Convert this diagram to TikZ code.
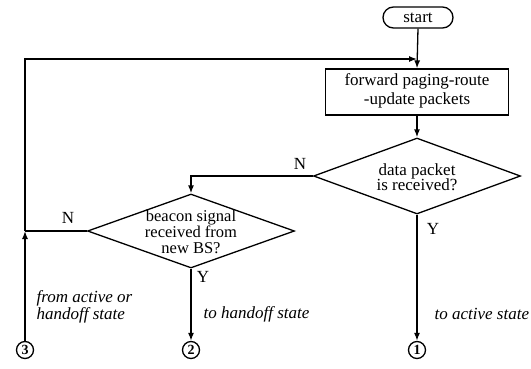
\documentclass[tikz,border=0pt]{standalone}
\usepackage{fontspec}
\setmainfont{Liberation Serif}
\usetikzlibrary{shapes.geometric,arrows.meta}
\begin{document}
\begin{tikzpicture}[x=1pt,y=-1pt,
  line width=1.3pt,
  txt/.style={font=\fontsize{17}{15.5}\selectfont, inner sep=0pt, align=center},
  itl/.style={font=\fontsize{17}{15}\selectfont\itshape, inner sep=0pt, align=left, anchor=west},
  dec/.style={draw, diamond, inner sep=0pt},
  conn/.style={draw, circle, minimum size=17pt, inner sep=0pt, font=\fontsize{14}{14}\selectfont\bfseries},
  arr/.style={-{Latex[length=8pt,width=6pt]}}
]
\useasboundingbox (0,0) rectangle (531,368);
% nodes
\node[draw, rounded corners=10.5pt, minimum width=70pt, minimum height=21pt, inner sep=0pt, txt] (start) at (418,17.5) {start};
\node[draw, minimum width=183pt, minimum height=46pt, inner sep=0pt] (box) at (417,92) {};
\node[txt] (boxtxt) at (417,91) {forward paging-route\\[3pt]-update packets};
\node[dec, minimum width=207pt, minimum height=76pt] (d1) at (417,176) {};
\node[txt] (d1txt) at (417,177) {data packet\\is received?};
\node[dec, minimum width=207pt, minimum height=74pt] (d2) at (191,231) {};
\node[txt, font=\fontsize{16.5}{16}\selectfont] (d2txt) at (191,232) {beacon signal\\received from\\new BS?};
\node[conn] (c3) at (25,350) {3};
\node[conn] (c2) at (191,350) {2};
\node[conn] (c1) at (417,350) {1};
\coordinate (j3) at (25,231);
\coordinate (tl) at (25,59);
\coordinate (tr) at (417,59);
% labels
\node[txt] (n1) at (300,164) {N};
\node[txt] (n2) at (68,218) {N};
\node[txt] (y1) at (433,229) {Y};
\node[txt] (y2) at (203,277) {Y};
\node[itl] (from) at (36,307) {from active or\\handoff state};
\node[itl] (toh) at (203,314) {to handoff state};
\node[itl] (toa) at (434,314) {to active state};
% connectors
\draw[arr] (start.south) -- (box.north);
\draw[arr] (j3) -- (tl) -- (tr);
\draw[arr] (box.south) -- (d1.north);
\draw[arr] (d1.west) -| (d2.north);
\draw (d2.west) -- (j3);
\draw[arr] (c3.north) -- (j3);
\draw[arr] (d2.south) -- (c2.north);
\draw[arr] (d1.south) -- (c1.north);
\end{tikzpicture}
\end{document}
